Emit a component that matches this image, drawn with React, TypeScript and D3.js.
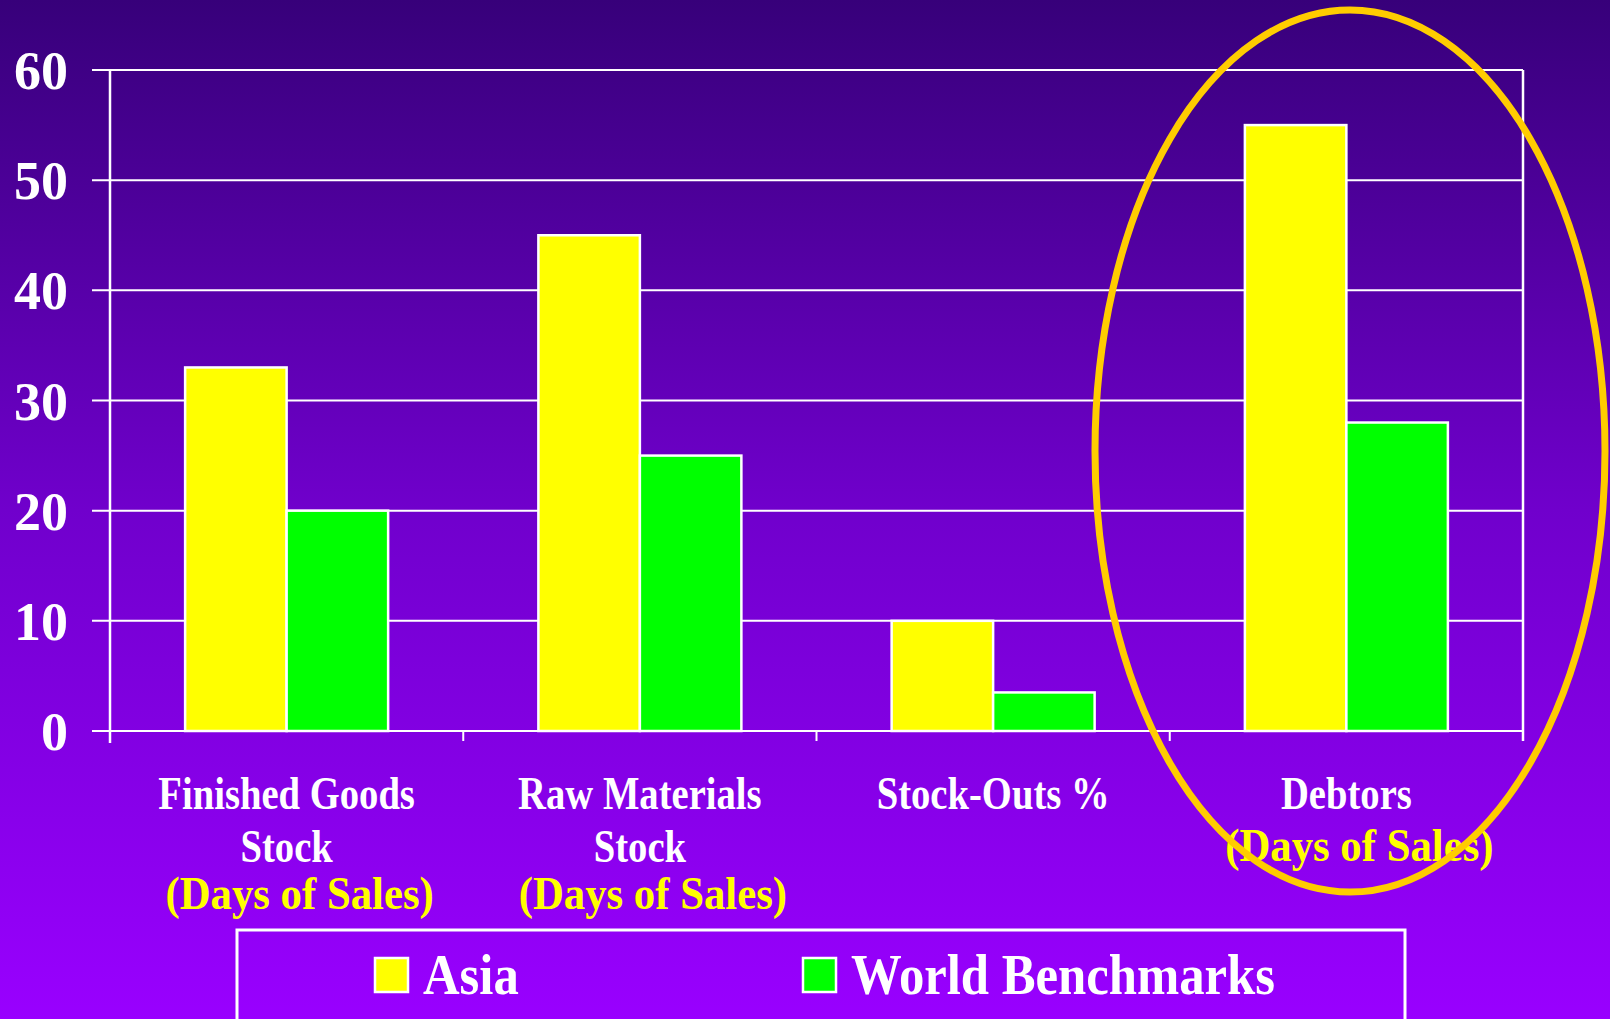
import React from "react";
import * as d3 from "d3";

const categories = ["Finished Goods Stock", "Raw Materials Stock", "Stock-Outs %", "Debtors"];
const labelLines: string[][] = [["Finished Goods", "Stock"], ["Raw Materials", "Stock"], ["Stock-Outs %"], ["Debtors"]];
const subLabels: (string | null)[] = ["(Days of Sales)", "(Days of Sales)", null, "(Days of Sales)"];
const seriesNames = ["Asia", "World Benchmarks"];
const asiaValues = [33, 45, 10, 55];
const worldValues = [20, 25, 3.5, 28];
const yTicks = [0, 10, 20, 30, 40, 50, 60];
const seriesColors = ["#FFFF00", "#00FF00"];

const W = 1610;
const H = 1019;
const left = 110;
const right = 1523;
const top = 70;
const bottom = 731;

export default function App() {
  const x = d3.scaleBand<string>().domain(categories).range([left, right]).padding(0);
  const bw = x.bandwidth();
  const groupW = 203;
  const xs = d3.scaleBand<string>().domain(seriesNames).range([(bw - groupW) / 2, (bw + groupW) / 2]).padding(0);
  const y = d3.scaleLinear().domain([0, 60]).range([bottom, top]);
  const series = [asiaValues, worldValues];
  const font = "'Liberation Serif', 'Times New Roman', serif";

  return (
    <svg width={W} height={H} style={{ position: "absolute", left: 0, top: 0 }} fontFamily={font}>
      <defs>
        <linearGradient id="bg" x1="0" y1="0" x2="0" y2="1">
          <stop offset="0" stopColor="#37007A" />
          <stop offset="0.5" stopColor="#7000CC" />
          <stop offset="1" stopColor="#9900FF" />
        </linearGradient>
      </defs>
      <rect x={0} y={0} width={W} height={H} fill="url(#bg)" />

      {/* gridlines */}
      {yTicks.map((t) => (
        <line key={"g" + t} x1={left - 18} x2={right} y1={y(t)} y2={y(t)} stroke="#fff" strokeWidth={2} />
      ))}
      {/* axes */}
      <line x1={left} x2={left} y1={top} y2={bottom + 12} stroke="#fff" strokeWidth={2.5} />
      <line x1={right} x2={right} y1={top} y2={bottom + 10} stroke="#fff" strokeWidth={2.5} />
      {categories.slice(1).map((c) => (
        <line key={"t" + c} x1={x(c)!} x2={x(c)!} y1={bottom} y2={bottom + 10} stroke="#fff" strokeWidth={2} />
      ))}

      {/* y tick labels */}
      {yTicks.map((t) => (
        <text key={"yl" + t} x={68} y={y(t) + 19} textAnchor="end" fill="#fff" fontWeight="bold" fontSize={54}>
          {t}
        </text>
      ))}

      {/* bars */}
      {categories.map((c, i) =>
        seriesNames.map((s, j) => (
          <rect
            key={c + s}
            x={x(c)! + xs(s)!}
            y={y(series[j][i])}
            width={xs.bandwidth()}
            height={y(0) - y(series[j][i])}
            fill={seriesColors[j]}
            stroke="#fff"
            strokeWidth={2.5}
          />
        ))
      )}

      {/* category labels */}
      {categories.map((c, i) => {
        const cx = x(c)! + bw / 2;
        const lines = labelLines[i];
        return (
          <g key={"lab" + c}>
            {lines.map((ln, k) => (
              <text
                key={ln}
                transform={`translate(${cx},${809 + k * 53}) scale(0.84,1)`}
                textAnchor="middle"
                fill="#fff"
                fontWeight="bold"
                fontSize={46}
              >
                {ln}
              </text>
            ))}
            {subLabels[i] && (
              <text
                transform={`translate(${cx + 13},${lines.length === 2 ? 909 : 861}) scale(0.93,1)`}
                textAnchor="middle"
                fill="#FFFF00"
                fontWeight="bold"
                fontSize={46}
              >
                {subLabels[i]}
              </text>
            )}
          </g>
        );
      })}

      {/* highlight ellipse */}
      <ellipse cx={1350} cy={451} rx={255} ry={441} fill="none" stroke="#FFCC00" strokeWidth={7} />

      {/* legend */}
      <rect x={237} y={930} width={1168} height={130} fill="none" stroke="#fff" strokeWidth={3} />
      {seriesNames.map((s, j) => {
        const lx = j === 0 ? 375 : 803;
        return (
          <g key={"leg" + s}>
            <rect x={lx} y={958} width={33} height={34} fill={seriesColors[j]} stroke="#fff" strokeWidth={2.5} />
            <text
              transform={`translate(${lx + 48},${994}) scale(0.89,1)`}
              fill="#fff"
              fontWeight="bold"
              fontSize={57}
            >
              {s}
            </text>
          </g>
        );
      })}
    </svg>
  );
}
